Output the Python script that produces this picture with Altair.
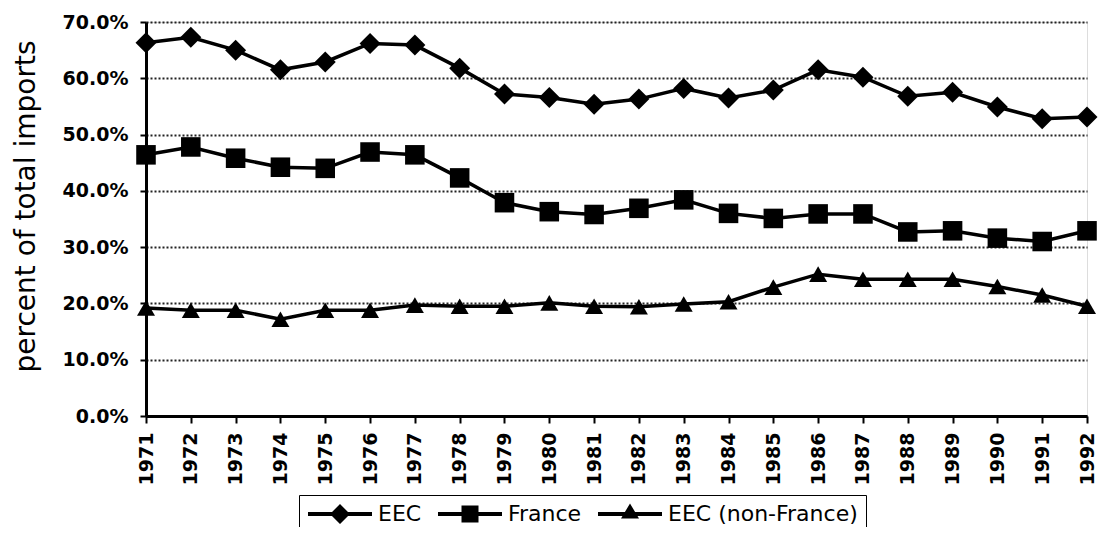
import altair as alt
import pandas as pd

years = [str(y) for y in range(1971, 1993)]
eec = [66.3, 67.3, 65.0, 61.5, 62.9, 66.2, 65.9, 61.8, 57.2, 56.6, 55.4,
       56.3, 58.2, 56.5, 57.9, 61.5, 60.2, 56.8, 57.5, 54.9, 52.8, 53.1]
france = [46.4, 47.8, 45.8, 44.2, 44.0, 46.9, 46.4, 42.3, 37.9, 36.3, 35.8,
          36.9, 38.4, 36.0, 35.1, 35.9, 35.9, 32.7, 32.9, 31.6, 31.0, 32.9]
eec_nonfr = [19.2, 18.8, 18.8, 17.2, 18.8, 18.8, 19.7, 19.5, 19.5, 20.1, 19.5,
             19.4, 19.9, 20.3, 22.9, 25.2, 24.3, 24.3, 24.3, 23.0, 21.5, 19.5]
series_names = ["EEC", "France", "EEC (non-France)"]
y_ticks = [0.0, 0.1, 0.2, 0.3, 0.4, 0.5, 0.6, 0.7]

rows = []
for name, vals in zip(series_names, [eec, france, eec_nonfr]):
    for yr, v in zip(years, vals):
        rows.append({"year": yr, "series": name, "value": v / 100.0})
df = pd.DataFrame(rows)

FONT = "DejaVu Sans"

x_enc = alt.X("year:O", scale=alt.Scale(type="point", padding=0),
              axis=alt.Axis(title=None, labelAngle=-90, labelFont=FONT,
                            labelFontWeight="bold", labelFontSize=19,
                            labelColor="black", labelPadding=9,
                            tickSize=7, tickWidth=2, tickColor="black",
                            domainWidth=3, domainColor="black", grid=False))
y_enc = alt.Y("value:Q", scale=alt.Scale(domain=[0, 0.7], nice=False, zero=True),
              axis=alt.Axis(title="percent of total imports", format=".1%",
                            values=y_ticks, labelFont=FONT, labelFontWeight="bold",
                            labelFontSize=19, labelColor="black", labelPadding=12,
                            tickSize=6, tickWidth=2, tickColor="black",
                            domainWidth=3, domainColor="black",
                            grid=True, gridDash=[2, 2], gridWidth=2,
                            gridColor="#222222",
                            titleFont=FONT, titleFontSize=28,
                            titleFontWeight="normal", titleColor="black",
                            titleX=-106, titleY=184))

base = alt.Chart(df)

lines = base.mark_line(color="black", strokeWidth=3.5).encode(
    x=x_enc, y=y_enc, detail="series:N")

points = base.mark_point(filled=True, color="black", opacity=1).encode(
    x=x_enc, y=y_enc,
    shape=alt.Shape("series:N", scale=alt.Scale(domain=series_names,
                    range=["diamond", "square", "triangle-up"]), legend=None),
    size=alt.Size("series:N", scale=alt.Scale(domain=series_names,
                  range=[441, 324, 400]), legend=None))

legend_paths = [
    "M-3.2,-0.2H3.2V0.2H-3.2Z M-1,0L0,-1L1,0L0,1Z",
    "M-3.2,-0.2H3.2V0.2H-3.2Z M-0.85,-0.85H0.85V0.85H-0.85Z",
    "M-3.2,-0.2H3.2V0.2H-3.2Z M0,-1.05L0.9,0.45H-0.9Z",
]

legend_layer = base.transform_filter("false").mark_point(
    filled=True, color="black", opacity=1).encode(
    x=x_enc, y=y_enc,
    shape=alt.Shape("series:N",
                    scale=alt.Scale(domain=series_names, range=legend_paths),
                    legend=alt.Legend(title=None, orient="none", direction="horizontal",
                                      legendX=153, legendY=473, padding=8,
                                      strokeColor="black", labelFont=FONT,
                                      labelFontSize=22, labelColor="black",
                                      labelLimit=500,
                                      symbolOffset=22, labelOffset=27,
                                      columnPadding=15,
                                      symbolSize=400, symbolStrokeWidth=0,
                                      symbolFillColor="black", symbolOpacity=1)))

chart = alt.layer(lines, points, legend_layer).resolve_scale(
    shape="independent", size="independent"
).properties(
    width=941, height=394,
    autosize=alt.AutoSizeParams(type="none"),
    padding={"left": 138, "top": 14, "right": 12, "bottom": 111},
).configure_view(stroke="black", strokeWidth=3).configure(background="white")

chart.save("out.html", embed_options={"renderer": "svg", "actions": False})
